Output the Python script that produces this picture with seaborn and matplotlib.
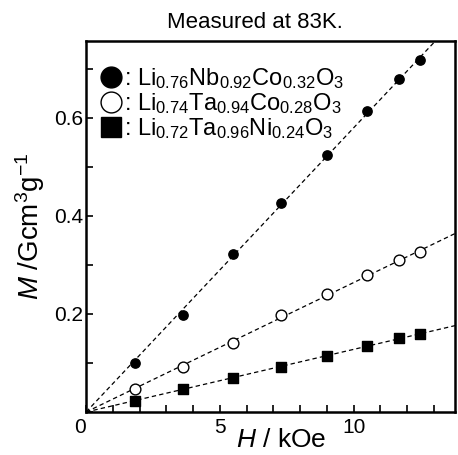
import numpy as np
import pandas as pd
import seaborn as sns
import matplotlib.pyplot as plt
from matplotlib.lines import Line2D
from matplotlib.ticker import MultipleLocator

# field H (kOe), shared by all three samples
field = [1.81, 3.61, 5.51, 7.30, 9.01, 10.49, 11.70, 12.48]
m_nb_co = [0.100, 0.197, 0.322, 0.426, 0.523, 0.613, 0.679, 0.718]
m_ta_co = [0.047, 0.091, 0.140, 0.197, 0.241, 0.279, 0.309, 0.326]
m_ta_ni = [0.022, 0.046, 0.070, 0.092, 0.115, 0.135, 0.150, 0.159]
samples = [r': Li$_{0.76}$Nb$_{0.92}$Co$_{0.32}$O$_3$',
           r': Li$_{0.74}$Ta$_{0.94}$Co$_{0.28}$O$_3$',
           r': Li$_{0.72}$Ta$_{0.96}$Ni$_{0.24}$O$_3$']

sns.set_style('ticks')
plt.rcParams['font.family'] = ['Liberation Sans', 'DejaVu Sans']
plt.rcParams['mathtext.fontset'] = 'custom'
plt.rcParams['mathtext.rm'] = 'Liberation Sans'
plt.rcParams['mathtext.it'] = 'Liberation Sans:italic'
for key in ['text.color', 'axes.labelcolor', 'xtick.color', 'ytick.color',
            'axes.edgecolor']:
    plt.rcParams[key] = 'black'

df = pd.DataFrame({
    'H': field * 3,
    'M': m_nb_co + m_ta_co + m_ta_ni,
    'Sample': [s for s in samples for _ in field],
})

fig = plt.figure(figsize=(4.58, 4.55), dpi=100)
ax = fig.add_axes([0.188, 0.0945, 0.806, 0.816])

xmax, ymax = 13.8, 0.757

# linear fits through the origin, drawn as dashed lines
fit_x = np.linspace(0, xmax, 50)
for s, vals in zip(samples, [m_nb_co, m_ta_co, m_ta_ni]):
    x = np.array(field)
    y = np.array(vals)
    slope = (x * y).sum() / (x * x).sum()
    sns.lineplot(x=fit_x, y=slope * fit_x, ax=ax, color='black',
                 linestyle=(0, (3.5, 2.5)), linewidth=0.9)

styles = {
    samples[0]: dict(marker='o', facecolor='black', size=45),
    samples[1]: dict(marker='o', facecolor='white', size=60),
    samples[2]: dict(marker='s', facecolor='black', size=42),
}
for s, st in styles.items():
    sub = df[df['Sample'] == s]
    sns.scatterplot(data=sub, x='H', y='M', ax=ax, marker=st['marker'],
                    s=st['size'], facecolor=st['facecolor'],
                    edgecolor='black', linewidth=1.0, zorder=3)

ax.set_xlim(0, xmax)
ax.set_ylim(0, ymax)
ax.set_xticks([0, 5, 10])
ax.set_yticks([0.2, 0.4, 0.6])
ax.set_yticklabels(['0.2', '0.4', '0.6'])
ax.xaxis.set_minor_locator(MultipleLocator(1))
ax.yaxis.set_minor_locator(MultipleLocator(0.1))
ax.tick_params(which='both', direction='in', length=5, width=1.2,
               labelsize=15, top=False, right=False)
ax.tick_params(axis='x', pad=4)
ax.tick_params(axis='y', pad=2)
for lbl in ax.get_xticklabels():
    if lbl.get_text() == '0':
        lbl.set_ha('right')
for sp in ax.spines.values():
    sp.set_linewidth(1.8)

ax.set_xlabel(r'$H$ / kOe', fontsize=19)
ax.xaxis.set_label_coords(0.528, -0.042)
ax.xaxis.label.set_va('top')
ax.set_ylabel(r'$M$ /Gcm$^3$g$^{-1}$', fontsize=20, labelpad=5)
ax.text(0.458, 1.035, 'Measured at 83K.', transform=ax.transAxes,
        ha='center', va='baseline', fontsize=16)

handles = [
    Line2D([], [], marker='o', color='none', markerfacecolor='black',
           markeredgecolor='black', markersize=15),
    Line2D([], [], marker='o', color='none', markerfacecolor='white',
           markeredgecolor='black', markersize=15, markeredgewidth=1.0),
    Line2D([], [], marker='s', color='none', markerfacecolor='black',
           markeredgecolor='black', markersize=14),
]
ax.legend(handles, samples, loc='upper left', frameon=False, fontsize=17,
          handlelength=0.9, handletextpad=0.1, labelspacing=0.0,
          borderaxespad=0.3, bbox_to_anchor=(-0.005, 0.975))

fig.savefig('out.png', dpi=100)
